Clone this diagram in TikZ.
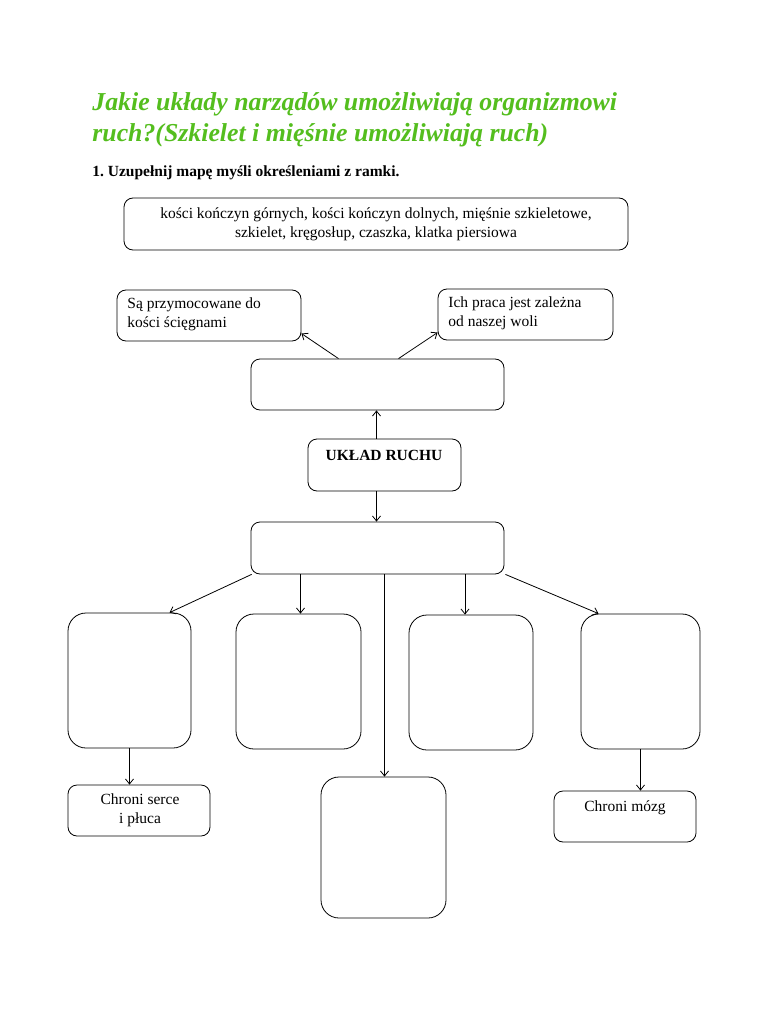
\documentclass[tikz,border=0pt]{standalone}
\usepackage{fontspec}
\setmainfont{Liberation Serif}
\usetikzlibrary{arrows.meta}
\definecolor{titlegreen}{RGB}{84,190,30}

\begin{document}
\frenchspacing
\begin{tikzpicture}[x=1pt,y=-1pt,>={Straight Barb[length=5pt,width=8pt]},line width=0.8pt]
  \tikzset{
    box/.style={draw,rounded corners=9pt,inner sep=0pt},
    tallbox/.style={draw,rounded corners=18pt,inner sep=0pt,minimum width=124pt,minimum height=135pt},
    txt/.style={inner sep=0pt,font=\fontsize{15.5}{19}\selectfont}
  }
  \fill[white] (0,0) rectangle (768,1024);
  \useasboundingbox (0,0) rectangle (768,1024);

  % title
  \node[anchor=base west,inner sep=0pt,align=left,text=titlegreen,
        font=\fontsize{25.8}{31}\selectfont\bfseries\itshape] (title) at (92,142)
        {Jakie układy narządów umożliwiają organizmowi\\ruch?(Szkielet i mięśnie umożliwiają ruch)};
  \node[anchor=base west,inner sep=0pt,font=\fontsize{15.5}{18}\selectfont\bfseries] (task) at (92,177)
        {1. Uzupełnij mapę myśli określeniami z ramki.};

  % word bank
  \node[box,minimum width=504pt,minimum height=52pt] (words) at (376,224) {};
  \node[txt,align=center,anchor=base] (wordstxt) at (376,237)
        {kości kończyn górnych, kości kończyn dolnych, mięśnie szkieletowe,\\szkielet, kręgosłup, czaszka, klatka piersiowa};

  % muscles branch
  \node[box,minimum width=184pt,minimum height=51pt] (lbox) at (209,315.5) {};
  \node[txt,align=left,anchor=base west] (lboxtxt) at (127,327) {Są przymocowane do\\kości ścięgnami};
  \node[box,minimum width=175pt,minimum height=51pt] (rbox) at (525.5,314.5) {};
  \node[txt,align=left,anchor=base west] (rboxtxt) at (448,326) {Ich praca jest zależna\\od naszej woli};
  \node[box,minimum width=253pt,minimum height=51pt] (musc) at (377.5,384.5) {};

  % centre
  \node[box,minimum width=153pt,minimum height=52pt] (uklad) at (384.5,465) {};
  \node[txt,anchor=base,font=\fontsize{15.5}{19}\selectfont\bfseries] (ukladtxt) at (384,460) {UKŁAD RUCHU};

  % skeleton branch
  \node[box,minimum width=253pt,minimum height=52pt] (skel) at (377.5,548) {};
  \node[tallbox,minimum width=123pt] (b1) at (129.5,680.5) {};
  \node[tallbox,minimum width=125pt] (b2) at (298.5,681.5) {};
  \node[tallbox] (b3) at (471,682.5) {};
  \node[tallbox,minimum width=119pt] (b4) at (640.5,681.5) {};
  \node[tallbox,minimum width=125pt,minimum height=141pt] (b5) at (383.5,847.5) {};
  \node[box,minimum width=142pt,minimum height=51pt] (serce) at (139,810.5) {};
  \node[txt,align=center,anchor=base] (sercetxt) at (140,823) {Chroni serce\\i płuca};
  \node[box,minimum width=142pt,minimum height=51pt] (mozg) at (625,816.5) {};
  \node[txt,anchor=base] (mozgtxt) at (625,811) {Chroni mózg};

  % arrows
  \draw[->] ([xshift=-39pt]musc.north) -- ([yshift=-18pt]lbox.east);
  \draw[->] ([xshift=21pt]musc.north) -- ([yshift=-18pt]rbox.west);
  \draw[->] ([xshift=-8pt]uklad.north) -- ([xshift=-8pt]uklad.north |- musc.south);
  \draw[->] ([xshift=-8pt]uklad.south) -- ([xshift=-8pt]uklad.south |- skel.north);
  \draw[->] ([xshift=1pt]skel.south west) -- ([xshift=40pt]b1.north);
  \draw[->] ([xshift=2pt]b2.north |- skel.south) -- ([xshift=2pt]b2.north);
  \draw[->] ([xshift=1pt]b5.north |- skel.south) -- ([xshift=1pt]b5.north);
  \draw[->] ([xshift=-6pt]b3.north |- skel.south) -- ([xshift=-6pt]b3.north);
  \draw[->] ([xshift=1pt]skel.south east) -- ([xshift=-42pt]b4.north);
  \draw[->] (b1.south) -- (b1.south |- serce.north);
  \draw[->] (b4.south) -- (b4.south |- mozg.north);
\end{tikzpicture}
\end{document}
